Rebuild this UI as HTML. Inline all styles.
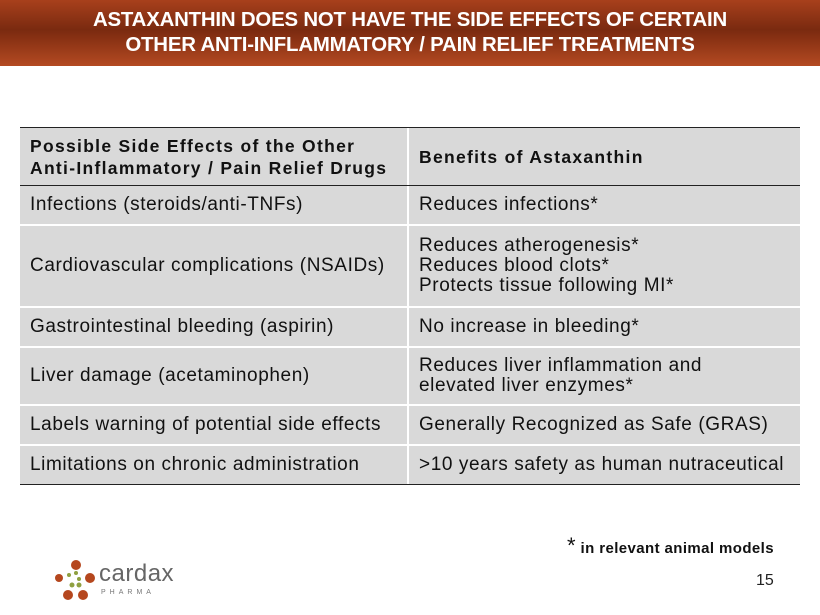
<!DOCTYPE html>
<html><head><style>
body{margin:0;width:820px;height:615px;background:#fff;position:relative;overflow:hidden;font-family:"Liberation Sans",Arial,sans-serif}
.hdr{position:absolute;left:0;top:0;width:820px;height:66px;background:linear-gradient(#a8401c 0%,#7a2a10 45%,#8a3214 60%,#b44a22 100%);color:#fff;font-weight:bold;font-size:20.4px;text-align:center;line-height:25px;padding-top:8px;box-sizing:border-box;letter-spacing:-0.2px}
.c{position:absolute;background:#d9d9d9;box-sizing:border-box;padding-left:10px;display:flex;align-items:center;font-size:19px;letter-spacing:0.6px;color:#111;line-height:20px;white-space:nowrap}
.h{font-weight:bold;font-size:17.5px;letter-spacing:1.3px;line-height:22px}
.ln{position:absolute;left:20px;width:780px;height:1px;background:#222}
</style></head><body>
<div class="hdr">ASTAXANTHIN DOES NOT HAVE THE SIDE EFFECTS OF CERTAIN<br>OTHER ANTI-INFLAMMATORY / PAIN RELIEF TREATMENTS</div>

<div class="c h" style="left:20px;top:128px;width:387px;height:57px">Possible Side Effects of the Other<br>Anti-Inflammatory / Pain Relief Drugs</div>
<div class="c h" style="left:409px;top:128px;width:391px;height:57px">Benefits of Astaxanthin</div>

<div class="c" style="left:20px;top:186px;width:387px;height:38px">Infections (steroids/anti-TNFs)</div>
<div class="c" style="left:409px;top:186px;width:391px;height:38px">Reduces infections*</div>

<div class="c" style="left:20px;top:226px;width:387px;height:80px">Cardiovascular complications (NSAIDs)</div>
<div class="c" style="left:409px;top:226px;width:391px;height:80px">Reduces atherogenesis*<br>Reduces blood clots*<br>Protects tissue following MI*</div>

<div class="c" style="left:20px;top:308px;width:387px;height:38px">Gastrointestinal bleeding (aspirin)</div>
<div class="c" style="left:409px;top:308px;width:391px;height:38px">No increase in bleeding*</div>

<div class="c" style="left:20px;top:348px;width:387px;height:56px">Liver damage (acetaminophen)</div>
<div class="c" style="left:409px;top:348px;width:391px;height:56px">Reduces liver inflammation and<br>elevated liver enzymes*</div>

<div class="c" style="left:20px;top:406px;width:387px;height:38px">Labels warning of potential side effects</div>
<div class="c" style="left:409px;top:406px;width:391px;height:38px">Generally Recognized as Safe (GRAS)</div>

<div class="c" style="left:20px;top:446px;width:387px;height:38px">Limitations on chronic administration</div>
<div class="c" style="left:409px;top:446px;width:391px;height:38px">&gt;10 years safety as human nutraceutical</div>

<div class="ln" style="top:127px"></div>
<div class="ln" style="top:185px"></div>
<div class="ln" style="top:484px"></div>

<div style="position:absolute;left:567px;top:533px;font-size:15px;letter-spacing:0.4px;font-weight:bold;color:#111;white-space:nowrap"><span style="font-size:22px;font-weight:normal">*</span> in relevant animal models</div>
<div style="position:absolute;left:756px;top:572px;font-size:16px;color:#222">15</div>

<svg style="position:absolute;left:50px;top:558px" width="60" height="50">
<circle cx="26" cy="7" r="5" fill="#b5471e"/>
<circle cx="9" cy="20" r="4" fill="#b5471e"/>
<circle cx="40" cy="20" r="5" fill="#b5471e"/>
<circle cx="19" cy="17" r="2" fill="#8fa040"/>
<circle cx="26" cy="15" r="2" fill="#8fa040"/>
<circle cx="29" cy="21" r="2" fill="#8fa040"/>
<circle cx="22" cy="27" r="2.5" fill="#8fa040"/>
<circle cx="29" cy="27" r="2.5" fill="#8fa040"/>
<circle cx="18" cy="37" r="5" fill="#b5471e"/>
<circle cx="33" cy="37" r="5" fill="#b5471e"/>
</svg>
<div style="position:absolute;left:99px;top:560px;font-size:24px;color:#666;letter-spacing:0.5px">cardax</div>
<div style="position:absolute;left:101px;top:589px;font-size:7px;color:#777;letter-spacing:4px">PHARMA</div>
</body></html>
